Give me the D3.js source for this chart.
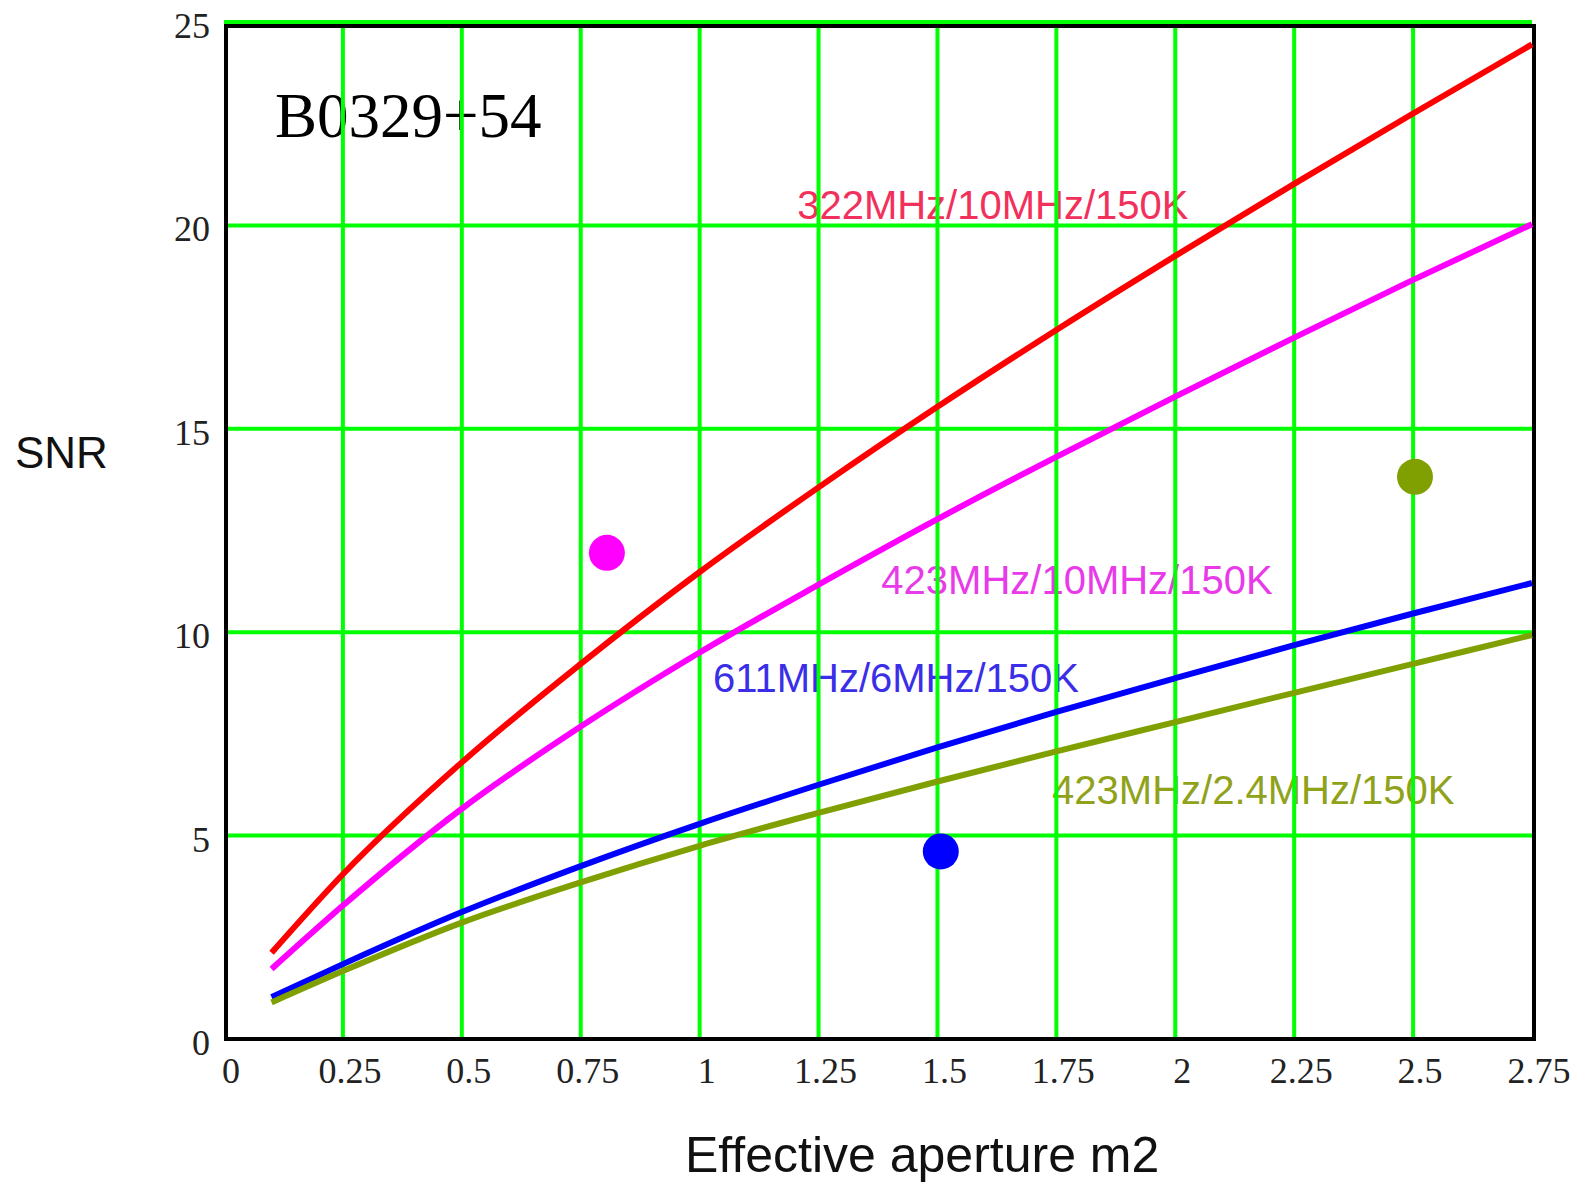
<!DOCTYPE html>
<html>
<head>
<meta charset="utf-8">
<script src="https://cdn.jsdelivr.net/npm/d3@7"></script>
<style>
  html, body { margin: 0; padding: 0; background: #fff; }
  svg { display: block; }
</style>
</head>
<body>
<svg id="chart" width="1576" height="1183"></svg>
<script>
const apertures = [0.1, 0.25, 0.5, 0.75, 1.0, 1.25, 1.5, 1.75, 2.0, 2.25, 2.5, 2.75];

// SNR for each curve
const snr322_10 = [2.12, 4.05, 6.80, 9.22, 11.48, 13.56, 15.54, 17.43, 19.25, 21.02, 22.75, 24.45];
const snr423_10 = [1.72, 3.28, 5.66, 7.68, 9.50, 11.17, 12.78, 14.31, 15.79, 17.24, 18.66, 20.03];
const snr611_6 = [1.03, 1.84, 3.12, 4.25, 5.29, 6.25, 7.17, 8.04, 8.87, 9.68, 10.46, 11.21];
const snr423_24 = [0.90, 1.67, 2.86, 3.85, 4.75, 5.56, 6.33, 7.07, 7.79, 8.51, 9.22, 9.93];

const curveNames = ['322MHz/10MHz/150K', '423MHz/10MHz/150K', '611MHz/6MHz/150K', '423MHz/2.4MHz/150K'];

// measured points
const measuredX = [0.805, 1.507, 2.504];
const measuredY = [11.95, 4.61, 13.82];

const xTicks = [0, 0.25, 0.5, 0.75, 1, 1.25, 1.5, 1.75, 2, 2.25, 2.5, 2.75];
const yTicks = [0, 5, 10, 15, 20, 25];

const svg = d3.select('#chart');
const margin = { top: 22, right: 44, bottom: 144, left: 224 };
const width = 1576;
const height = 1183;

const x = d3.scaleLinear().domain([0, 2.75]).range([margin.left, width - margin.right]);
const y = d3.scaleLinear().domain([0, 25]).range([height - margin.bottom, margin.top]);

const lineColors = ['#ff0000', '#ff00ff', '#0000ff', '#7fa000'];
const labelColors = ['#f2305c', '#e83ae8', '#3a2ee8', '#8fa21a'];
const dotColors = ['#ff00ff', '#0000ff', '#7fa000'];

// label anchors in data units (start of text, baseline)
const labelPos = [[1.205, 20.16], [1.382, 10.94], [1.028, 8.53], [1.741, 5.78]];

// curve labels sit under the grid
svg.append('g')
  .selectAll('text')
  .data(curveNames)
  .enter()
  .append('text')
  .attr('x', (d, i) => x(labelPos[i][0]))
  .attr('y', (d, i) => y(labelPos[i][1]))
  .attr('fill', (d, i) => labelColors[i])
  .style('font-family', '"Liberation Sans", Arial, sans-serif')
  .style('font-size', '40px')
  .text(d => d);

// source name
svg.append('text')
  .attr('x', x(0.107))
  .attr('y', y(22.17))
  .attr('fill', '#000')
  .style('font-family', '"Liberation Serif", "Times New Roman", serif')
  .style('font-size', '63px')
  .text('B0329+54');

// grid
const grid = svg.append('g').attr('stroke', '#00ff00').attr('stroke-width', 4);
grid.selectAll('.vgrid')
  .data(xTicks.slice(1, -1))
  .enter()
  .append('line')
  .attr('x1', d => x(d)).attr('x2', d => x(d))
  .attr('y1', y(25) - 2).attr('y2', y(0));
grid.selectAll('.hgrid')
  .data(yTicks.slice(1))
  .enter()
  .append('line')
  .attr('x1', x(0)).attr('x2', x(2.75))
  .attr('y1', d => y(d)).attr('y2', d => y(d));

// frame
svg.append('rect')
  .attr('x', x(0) + 2)
  .attr('y', y(25) + 4)
  .attr('width', x(2.75) - x(0))
  .attr('height', y(0) - y(25) - 4)
  .attr('fill', 'none')
  .attr('stroke', '#000')
  .attr('stroke-width', 4);

// curves
const series = [snr322_10, snr423_10, snr611_6, snr423_24];
const line = d3.line()
  .x((d, i) => x(apertures[i]))
  .y(d => y(d))
  .curve(d3.curveMonotoneX);

svg.append('g')
  .selectAll('path')
  .data(series)
  .enter()
  .append('path')
  .attr('d', d => line(d))
  .attr('fill', 'none')
  .attr('stroke', (d, i) => lineColors[i])
  .attr('stroke-width', 6);

// measured dots
svg.append('g')
  .selectAll('circle')
  .data(measuredX)
  .enter()
  .append('circle')
  .attr('cx', d => x(d))
  .attr('cy', (d, i) => y(measuredY[i]))
  .attr('r', 18)
  .attr('fill', (d, i) => dotColors[i]);

// tick labels
const fmt = d => String(d);
svg.append('g')
  .selectAll('text')
  .data(xTicks)
  .enter()
  .append('text')
  .attr('x', d => x(d) + 7)
  .attr('y', y(0) + 44)
  .attr('text-anchor', 'middle')
  .attr('fill', '#222')
  .style('font-family', '"Liberation Serif", "Times New Roman", serif')
  .style('font-size', '36px')
  .text(fmt);

svg.append('g')
  .selectAll('text')
  .data(yTicks)
  .enter()
  .append('text')
  .attr('x', x(0) - 14)
  .attr('y', d => y(d) + 16)
  .attr('text-anchor', 'end')
  .attr('fill', '#222')
  .style('font-family', '"Liberation Serif", "Times New Roman", serif')
  .style('font-size', '36px')
  .text(fmt);

// axis titles
svg.append('text')
  .attr('x', 15)
  .attr('y', 468)
  .attr('fill', '#111')
  .style('font-family', '"Liberation Sans", Arial, sans-serif')
  .style('font-size', '44px')
  .text('SNR');

svg.append('text')
  .attr('x', 685)
  .attr('y', 1172)
  .attr('fill', '#111')
  .style('font-family', '"Liberation Sans", Arial, sans-serif')
  .style('font-size', '50px')
  .text('Effective aperture m2');
</script>
</body>
</html>
